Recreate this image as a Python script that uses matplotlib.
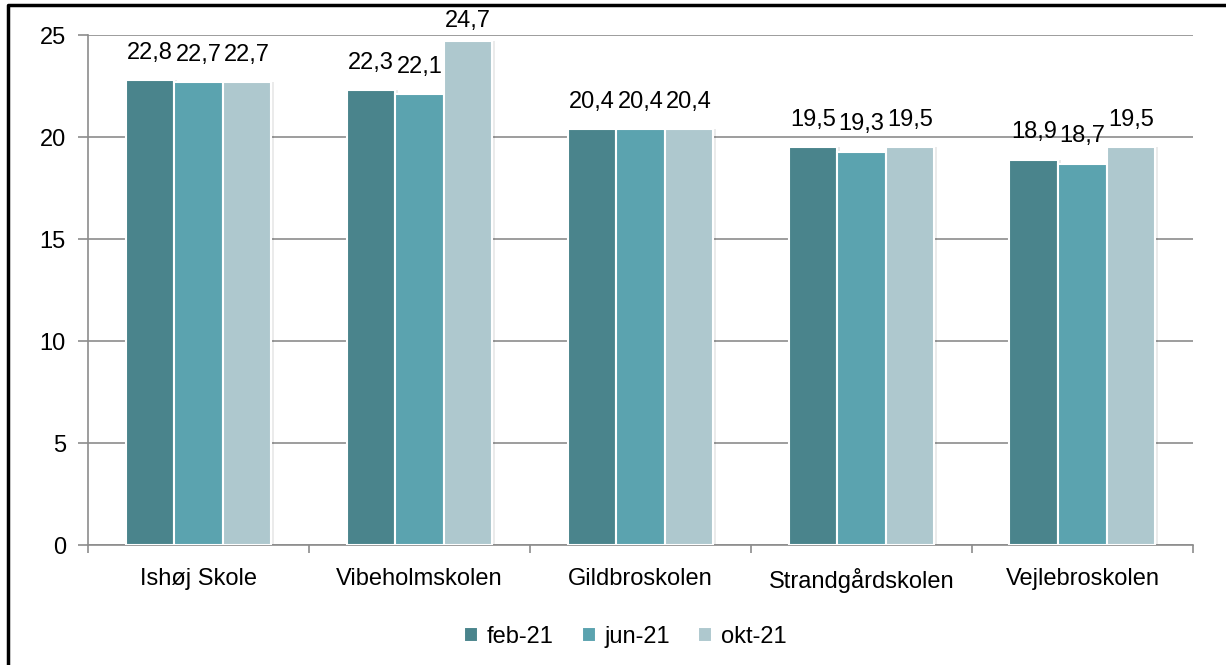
import matplotlib.pyplot as plt
import numpy as np
from matplotlib.lines import Line2D

plt.rcParams['font.family'] = ['Liberation Sans', 'DejaVu Sans']

schools = ['Ishøj Skole', 'Vibeholmskolen', 'Gildbroskolen', 'Strandgårdskolen', 'Vejlebroskolen']
periods = ['feb-21', 'jun-21', 'okt-21']
feb = [22.8, 22.3, 20.4, 19.5, 18.9]
jun = [22.7, 22.1, 20.4, 19.3, 18.7]
okt = [22.7, 24.7, 20.4, 19.5, 19.5]
colors = ['#4a848c', '#5ba3af', '#aec8ce']
fs = 17

fig = plt.figure(figsize=(12.26, 6.65), dpi=100)
ax = fig.add_axes([0.0718, 0.180, 0.9012, 0.767])

x = np.arange(len(schools))
w = 0.22
for i, (vals, lab) in enumerate(zip([feb, jun, okt], periods)):
    pos = x + (i - 1) * w
    # soft shadow
    ax.bar(pos + 0.012, vals, w, color='#000000', alpha=0.08, zorder=2)
    ax.bar(pos, vals, w, color=colors[i], edgecolor='white', linewidth=1.5,
           label=lab, zorder=3)
    for p, v in zip(pos, vals):
        # labels kept inside the plot area like Excel does
        ax.text(p, min(v + 0.8, 25.15), ('%.1f' % v).replace('.', ','), ha='center',
                va='bottom', fontsize=fs, zorder=4)

ax.set_xlim(-0.5, len(schools) - 0.5)
ax.set_ylim(0, 25)
ax.set_yticks(range(0, 26, 5))
ax.yaxis.grid(True, color='#8c8c8c', linewidth=1.2, zorder=0)
ax.set_axisbelow(True)
ax.set_xticks(x)
ax.set_xticklabels(schools, fontsize=fs)
ax.set_xticks(np.arange(-0.5, len(schools)), minor=True)
ax.tick_params(axis='x', which='major', length=0, pad=16)
ax.tick_params(axis='x', which='minor', length=6, color='#8c8c8c', width=1.2)
ax.tick_params(axis='y', length=7, color='#8c8c8c', width=1.2, labelsize=fs, pad=9)
for s in ['top', 'right']:
    ax.spines[s].set_visible(False)
for s in ['left', 'bottom']:
    ax.spines[s].set_color('#8c8c8c')
    ax.spines[s].set_linewidth(1.2)

handles, labels = ax.get_legend_handles_labels()
fig.legend(handles, labels, loc='center', bbox_to_anchor=(0.51, 0.042), ncol=3, frameon=False,
           fontsize=fs, handlelength=0.6, handleheight=0.6, handletextpad=0.35, columnspacing=1.2)

# chart border (only left and top edges fall inside the image)
fig.add_artist(Line2D([8 / 1226, 8 / 1226, 1], [0, 1 - 5 / 665, 1 - 5 / 665],
                      transform=fig.transFigure, color='black', linewidth=2.5))

fig.savefig('out.png', dpi=100)
